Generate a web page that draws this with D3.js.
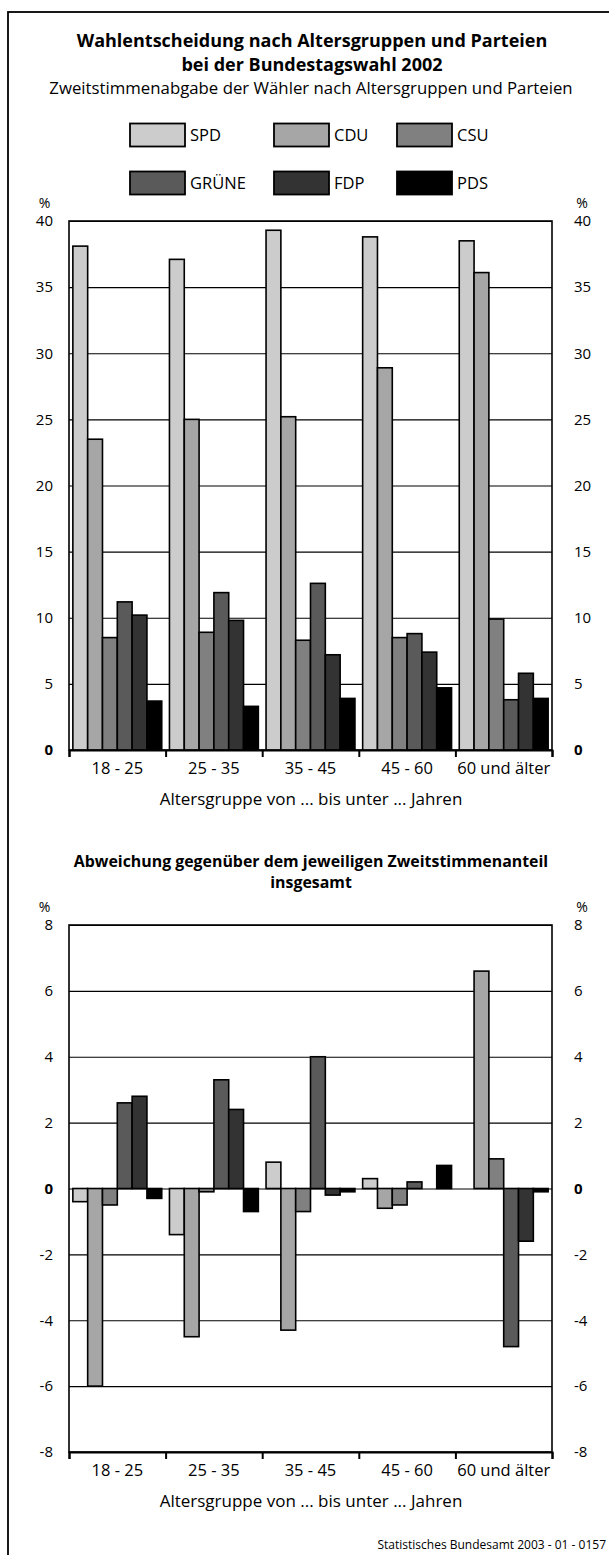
<!DOCTYPE html>
<html>
<head>
<meta charset="utf-8">
<script src="https://cdn.jsdelivr.net/npm/d3@7"></script>
<style>
    body { margin: 0; background: #fff; }
    svg { display: block; font-family: "Open Sans", sans-serif; }
</style>
</head>
<body>
<div id="chart"></div>
<script>
const ageGroups = ["18 - 25", "25 - 35", "35 - 45", "45 - 60", "60 und älter"];
const parties = ["SPD", "CDU", "CSU", "GRÜNE", "FDP", "PDS"];
const partyColors = ["#cccccc", "#a6a6a6", "#808080", "#5a5a5a", "#333333", "#000000"];

// Zweitstimmenanteil je Altersgruppe, %
const shareSPD = [38.1, 37.1, 39.3, 38.8, 38.5];
const shareCDU = [23.5, 25.0, 25.2, 28.9, 36.1];
const shareCSU = [8.5, 8.9, 8.3, 8.5, 9.9];
const shareGruene = [11.2, 11.9, 12.6, 8.8, 3.8];
const shareFDP = [10.2, 9.8, 7.2, 7.4, 5.8];
const sharePDS = [3.7, 3.3, 3.9, 4.7, 3.9];

// Abweichung vom Gesamtergebnis, Prozentpunkte
const devSPD = [-0.4, -1.4, 0.8, 0.3, 0.0];
const devCDU = [-6.0, -4.5, -4.3, -0.6, 6.6];
const devCSU = [-0.5, -0.1, -0.7, -0.5, 0.9];
const devGruene = [2.6, 3.3, 4.0, 0.2, -4.8];
const devFDP = [2.8, 2.4, -0.2, 0.0, -1.6];
const devPDS = [-0.3, -0.7, -0.1, 0.7, -0.1];

const topTicks = [0, 5, 10, 15, 20, 25, 30, 35, 40];
const bottomTicks = [-8, -6, -4, -2, 0, 2, 4, 6, 8];

const width = 609;
const height = 1555;

const svg = d3.select("#chart")
    .append("svg")
    .attr("width", width)
    .attr("height", height);

// outer frame
svg.append("rect")
    .attr("x", 8).attr("y", 12)
    .attr("width", 640).attr("height", 1600)
    .attr("fill", "none").attr("stroke", "#000").attr("stroke-width", 1.8);

function buildRows(series) {
    return ageGroups.map((g, i) => ({
        group: g,
        values: parties.map((p, j) => ({ party: p, value: series[j][i] })),
    }));
}

const topRows = buildRows([shareSPD, shareCDU, shareCSU, shareGruene, shareFDP, sharePDS]);
const bottomRows = buildRows([devSPD, devCDU, devCSU, devGruene, devFDP, devPDS]);

const color = d3.scaleOrdinal().domain(parties).range(partyColors);

// titles
const titles = svg.append("g").attr("text-anchor", "middle").attr("fill", "#000");
titles.append("text").attr("x", 312).attr("y", 47)
    .attr("font-size", 18).attr("font-weight", "bold")
    .text("Wahlentscheidung nach Altersgruppen und Parteien");
titles.append("text").attr("x", 312).attr("y", 71)
    .attr("font-size", 18).attr("font-weight", "bold")
    .text("bei der Bundestagswahl 2002");
titles.append("text").attr("x", 311).attr("y", 94)
    .attr("font-size", 16.8)
    .text("Zweitstimmenabgabe der Wähler nach Altersgruppen und Parteien");

// legend
const legendX = d3.scaleOrdinal().domain([0, 1, 2]).range([130, 274, 397]);
const legendY = d3.scaleOrdinal().domain([0, 1]).range([135, 183]);
const legend = svg.append("g")
    .selectAll("g")
    .data(parties)
    .join("g")
    .attr("transform", (d, i) => `translate(${legendX(i % 3)}, ${legendY(Math.floor(i / 3))})`);
legend.append("rect")
    .attr("x", 0).attr("y", -11.5)
    .attr("width", 55).attr("height", 23)
    .attr("fill", (d) => color(d))
    .attr("stroke", "#000").attr("stroke-width", 1.8);
legend.append("text")
    .attr("x", 60).attr("y", 6)
    .attr("font-size", 16.5)
    .text((d) => d);

function drawPanel(rows, ticks, top, bottom) {
    const left = 69;
    const right = 552;

    const x0 = d3.scaleBand()
        .domain(ageGroups)
        .range([left, right])
        .padding(0);

    const x1 = d3.scaleBand()
        .domain(parties)
        .range([0, x0.bandwidth()])
        .paddingInner(0)
        .paddingOuter(0.26);

    const xEdge = d3.scaleLinear()
        .domain([0, ageGroups.length])
        .range([left, right]);

    const y = d3.scaleLinear()
        .domain(d3.extent(ticks))
        .range([bottom, top]);

    const g = svg.append("g");

    // gridlines
    g.append("g")
        .attr("transform", `translate(${left}, 0)`)
        .call(d3.axisLeft(y).tickValues(ticks).tickFormat("").tickSize(-(right - left)))
        .call((s) => s.select(".domain").remove())
        .call((s) => s.selectAll("line").attr("stroke", "#000").attr("stroke-width", 1.2));

    // plot frame
    g.append("rect")
        .attr("x", left).attr("y", top)
        .attr("width", right - left).attr("height", bottom - top)
        .attr("fill", "none").attr("stroke", "#000").attr("stroke-width", 1.6);

    // bars
    const groups = g.append("g")
        .selectAll("g")
        .data(rows)
        .join("g")
        .attr("transform", (d) => `translate(${x0(d.group)}, 0)`);

    groups.selectAll("rect")
        .data((d) => d.values.filter((v) => v.value !== 0))
        .join("rect")
        .attr("x", (d) => x1(d.party))
        .attr("y", (d) => y(Math.max(0, d.value)))
        .attr("width", x1.bandwidth())
        .attr("height", (d) => Math.abs(y(d.value) - y(0)))
        .attr("fill", (d) => color(d.party))
        .attr("stroke", "#000")
        .attr("stroke-width", 1.6);

    // bottom axis with ticks at group boundaries
    g.append("g")
        .attr("transform", `translate(0, ${bottom})`)
        .call(d3.axisBottom(xEdge).ticks(ageGroups.length).tickFormat("").tickSize(7).tickSizeOuter(7))
        .call((s) => s.selectAll("line, path").attr("stroke", "#000").attr("stroke-width", 2));

    g.append("g")
        .attr("transform", `translate(0, ${bottom})`)
        .call(d3.axisBottom(x0).tickSize(0).tickPadding(12))
        .call((s) => s.select(".domain").remove())
        .call((s) => s.selectAll("text")
            .attr("font-family", "Open Sans, sans-serif")
            .attr("font-size", 16.5)
            .attr("fill", "#000"));

    // value labels left and right
    const fmt = (d) => String(d);
    g.append("g")
        .attr("transform", `translate(${left - 16}, 0)`)
        .call(d3.axisLeft(y).tickValues(ticks).tickFormat(fmt).tickSize(0).tickPadding(0))
        .call((s) => s.select(".domain").remove())
        .call((s) => s.selectAll("text")
            .attr("font-family", "Open Sans, sans-serif")
            .attr("font-size", 15)
            .attr("font-weight", (d) => (d === 0 ? "bold" : "normal"))
            .attr("fill", "#000"));

    g.append("g")
        .attr("transform", `translate(${right + 22}, 0)`)
        .call(d3.axisRight(y).tickValues(ticks).tickFormat(fmt).tickSize(0).tickPadding(0))
        .call((s) => s.select(".domain").remove())
        .call((s) => s.selectAll("text")
            .attr("font-family", "Open Sans, sans-serif")
            .attr("font-size", 15)
            .attr("font-weight", (d) => (d === 0 ? "bold" : "normal"))
            .attr("fill", "#000"));

    g.append("text").attr("x", 44.5).attr("y", top - 13)
        .attr("text-anchor", "middle").attr("font-size", 14).text("%");
    g.append("text").attr("x", 582).attr("y", top - 13)
        .attr("text-anchor", "middle").attr("font-size", 14).text("%");

    g.append("text")
        .attr("x", 311).attr("y", bottom + 55)
        .attr("text-anchor", "middle")
        .attr("font-size", 17)
        .text("Altersgruppe von ... bis unter ... Jahren");
}

drawPanel(topRows, topTicks, 221, 750);

svg.append("text").attr("x", 311).attr("y", 867)
    .attr("text-anchor", "middle").attr("font-size", 15.9).attr("font-weight", "bold")
    .text("Abweichung gegenüber dem jeweiligen Zweitstimmenanteil");
svg.append("text").attr("x", 311).attr("y", 888)
    .attr("text-anchor", "middle").attr("font-size", 15.9).attr("font-weight", "bold")
    .text("insgesamt");

drawPanel(bottomRows, bottomTicks, 925, 1452);

svg.append("text")
    .attr("x", 606).attr("y", 1549)
    .attr("text-anchor", "end")
    .attr("font-size", 12)
    .text("Statistisches Bundesamt 2003 - 01 - 0157");
</script>
</body>
</html>
